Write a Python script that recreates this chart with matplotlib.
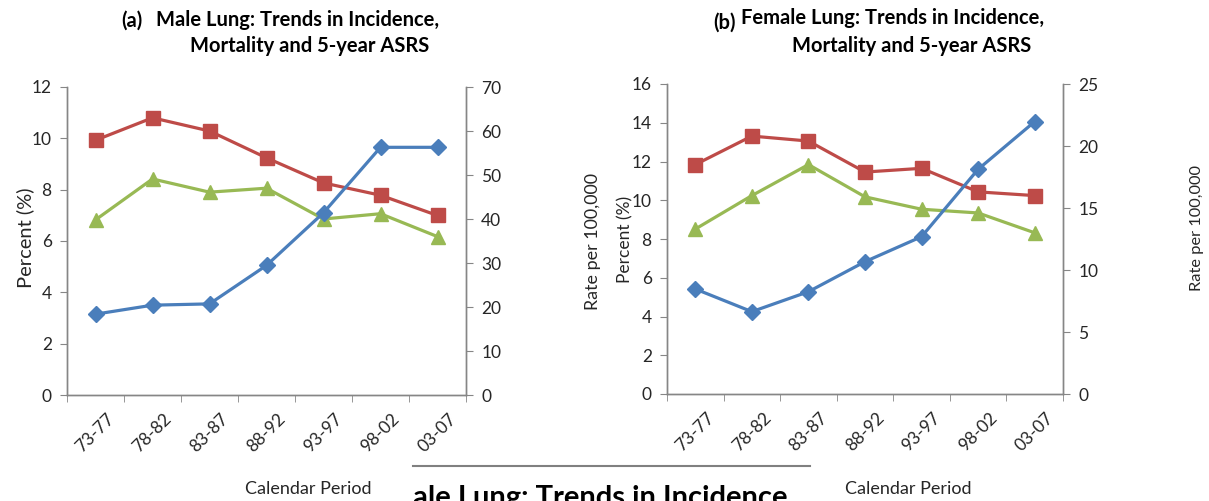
import matplotlib
matplotlib.use('Agg')
import matplotlib.pyplot as plt
from matplotlib.lines import Line2D

periods = ['73-77', '78-82', '83-87', '88-92', '93-97', '98-02', '03-07']
male_asrs = [3.15, 3.5, 3.55, 5.05, 7.1, 9.65, 9.65]
male_incidence = [57.9, 63.0, 60.0, 53.9, 48.2, 45.4, 40.8]
male_mortality = [39.8, 49.1, 46.1, 47.0, 40.0, 41.2, 36.0]
female_asrs = [5.42, 4.25, 5.28, 6.83, 8.12, 11.6, 14.06]
female_incidence = [18.5, 20.8, 20.4, 17.9, 18.2, 16.3, 16.0]
female_mortality = [13.3, 16.0, 18.5, 15.9, 14.9, 14.6, 13.0]

plt.rcParams['font.family'] = ['Lato', 'DejaVu Sans']

W, H = 1209, 501
fig = plt.figure(figsize=(W / 100, H / 100), dpi=100)

def box(x0, y0, x1, y1):
    return [x0 / W, 1 - y1 / H, (x1 - x0) / W, (y1 - y0) / H]

def ptxt(x, y, s, **kw):
    fig.text(x / W, 1 - y / H, s, **kw)

BLUE = '#4A7EBB'
RED = '#BE4B48'
GREEN = '#98B954'
SPINE = '#868686'
TXT = '#262626'

def panel(rect, asrs, inc, mort, lmax, lstep, rmax, rstep):
    ax = fig.add_axes(rect)
    ax2 = ax.twinx()
    x = list(range(len(periods)))
    ax.plot(x, asrs, color=BLUE, lw=2.3, marker='D', ms=8.5, mec=BLUE, mfc=BLUE, zorder=3)
    ax2.plot(x, inc, color=RED, lw=2.3, marker='s', ms=9.5, mec=RED, mfc=RED, zorder=3)
    ax2.plot(x, mort, color=GREEN, lw=2.3, marker='^', ms=10, mec=GREEN, mfc=GREEN, zorder=3)
    ax.set_xlim(-0.5, len(periods) - 0.5)
    ax.set_ylim(0, lmax)
    ax2.set_ylim(0, rmax)
    ax.set_yticks(range(0, lmax + 1, lstep))
    ax2.set_yticks(range(0, rmax + 1, rstep))
    ax.set_xticks(x)
    ax.set_xticklabels(periods, rotation=45, ha='center', va='top', fontsize=12.5, color=TXT)
    ax.set_xticks([i - 0.5 for i in range(len(periods) + 1)], minor=True)
    ax.tick_params(axis='x', which='major', length=0, pad=11)
    ax.tick_params(axis='x', which='minor', length=5, color=SPINE, direction='out')
    ax.tick_params(axis='y', length=5, color=SPINE, labelsize=12.5, labelcolor=TXT, direction='out', pad=6)
    ax2.tick_params(axis='y', length=5, color=SPINE, labelsize=12.5, labelcolor=TXT, direction='out', pad=6)
    for a in (ax, ax2):
        a.spines['top'].set_visible(False)
        for s in ('left', 'right', 'bottom'):
            a.spines[s].set_color(SPINE)
            a.spines[s].set_linewidth(1.0)
    ax.set_zorder(ax2.get_zorder() + 1)
    ax.patch.set_visible(False)
    return ax, ax2

panel(box(67, 87, 466, 395), male_asrs, male_incidence, male_mortality, 12, 2, 70, 10)
panel(box(667, 84, 1063, 394), female_asrs, female_incidence, female_mortality, 16, 2, 25, 5)

# titles
tkw = dict(fontsize=14.5, fontweight='bold', color='black', ha='center', va='center')
ptxt(132, 21, '(a)', **tkw)
ptxt(298, 20, 'Male Lung: Trends in Incidence,', **tkw)
ptxt(310, 46, 'Mortality and 5-year ASRS', **tkw)
ptxt(724, 23, '(b)', **tkw)
ptxt(893, 18, 'Female Lung: Trends in Incidence,', **tkw)
ptxt(912, 46, 'Mortality and 5-year ASRS', **tkw)

# axis labels
ptxt(25, 238, 'Percent (%)', fontsize=14.5, color=TXT, ha='center', va='center', rotation=90)
ptxt(593, 241, 'Rate per 100,000', fontsize=12.9, color=TXT, ha='center', va='center', rotation=90)
ptxt(625, 239, 'Percent (%)', fontsize=12.5, color=TXT, ha='center', va='center', rotation=90)
ptxt(1197, 228, 'Rate per 100,000', fontsize=11.8, color=TXT, ha='center', va='center', rotation=90)
ptxt(308, 489, 'Calendar Period', fontsize=13, color=TXT, ha='center', va='center')
ptxt(908, 489, 'Calendar Period', fontsize=13, color=TXT, ha='center', va='center')

# fragment of the next figure at the bottom
fig.add_artist(Line2D([413 / W, 810 / W], [1 - 466 / H, 1 - 466 / H], color='#808080', lw=1.5))
ptxt(413, 506, 'ale Lung: Trends in Incidence', fontsize=21, fontweight='bold',
     color='black', ha='left', va='baseline')

fig.savefig('out.png', dpi=100)
